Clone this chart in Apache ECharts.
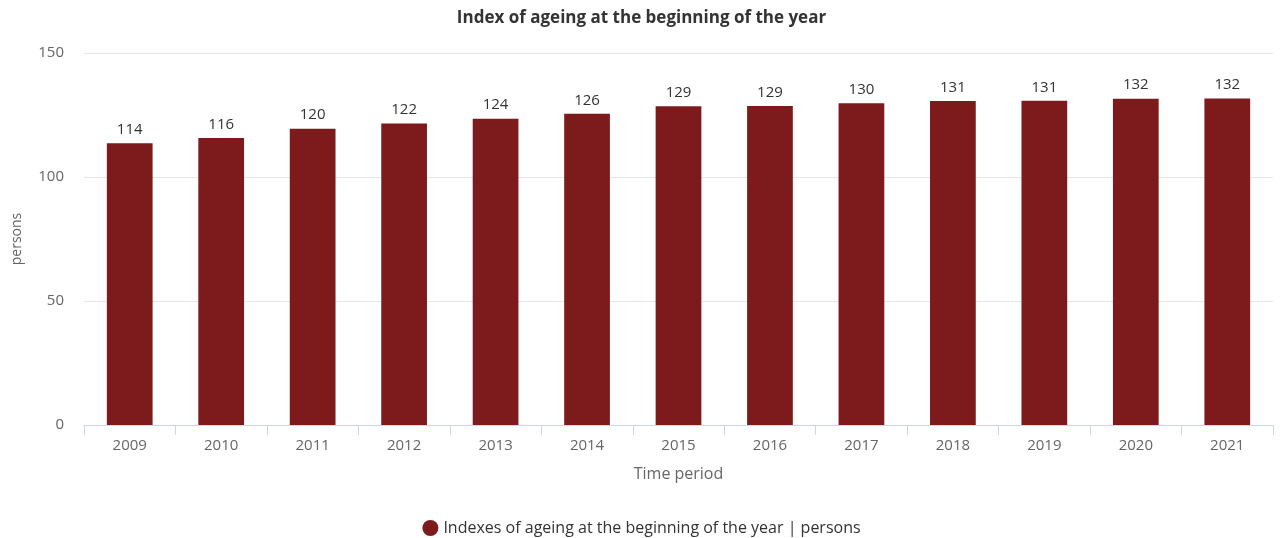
<!DOCTYPE html>
<html>
<head>
<meta charset="utf-8">
<script src="https://cdn.jsdelivr.net/npm/echarts@6/dist/echarts.min.js"></script>
<style>
  html, body { margin: 0; padding: 0; background: #fff; }
  #chart { width: 1283px; height: 538px; }
</style>
</head>
<body>
<div id="chart"></div>
<script>
var years = ["2009", "2010", "2011", "2012", "2013", "2014", "2015", "2016", "2017", "2018", "2019", "2020", "2021"];
var ageingIndex = [113.6, 115.7, 119.5, 121.6, 123.5, 125.5, 128.5, 128.6, 129.7, 130.6, 130.7, 131.6, 131.7];
var yTicks = [0, 50, 100, 150];

var chart = echarts.init(document.getElementById("chart"));
chart.setOption({
  textStyle: { fontFamily: "Open Sans" },
  title: {
    text: "Index of ageing at the beginning of the year",
    left: "center",
    top: 5,
    textStyle: { fontSize: 17, fontWeight: "bold", color: "#333" }
  },
  grid: { left: 84, right: 10, top: 53, bottom: 113 },
  legend: {
    top: 515,
    left: "center",
    icon: "circle",
    itemWidth: 16,
    itemHeight: 16,
    itemGap: 10,
    textStyle: { fontSize: 16, color: "#333" },
    data: ["Indexes of ageing at the beginning of the year | persons"]
  },
  xAxis: {
    type: "category",
    data: years,
    name: "Time period",
    nameLocation: "middle",
    nameGap: 41,
    nameTextStyle: { fontSize: 16, color: "#666" },
    axisLine: { lineStyle: { color: "#ccd6eb" } },
    axisTick: { show: true, length: 10, lineStyle: { color: "#ccd6eb" } },
    axisLabel: { fontSize: 15, color: "#666", margin: 13 }
  },
  yAxis: {
    type: "value",
    min: yTicks[0],
    max: yTicks[yTicks.length - 1],
    interval: 50,
    name: "persons",
    nameLocation: "middle",
    nameGap: 60,
    nameTextStyle: { fontSize: 14, color: "#666" },
    axisLine: { show: false },
    axisTick: { show: false },
    axisLabel: { fontSize: 15, color: "#666", margin: 20 },
    splitLine: { lineStyle: { color: "#e6e6e6" } }
  },
  series: [
    {
      name: "Indexes of ageing at the beginning of the year | persons",
      type: "bar",
      data: ageingIndex,
      barWidth: "50%",
      itemStyle: { color: "#7d1b1c" },
      label: {
        show: true,
        position: "top",
        distance: 6,
        fontSize: 15,
        color: "#333",
        formatter: function (p) { return Math.round(p.value); }
      }
    }
  ]
});
</script>
</body>
</html>
